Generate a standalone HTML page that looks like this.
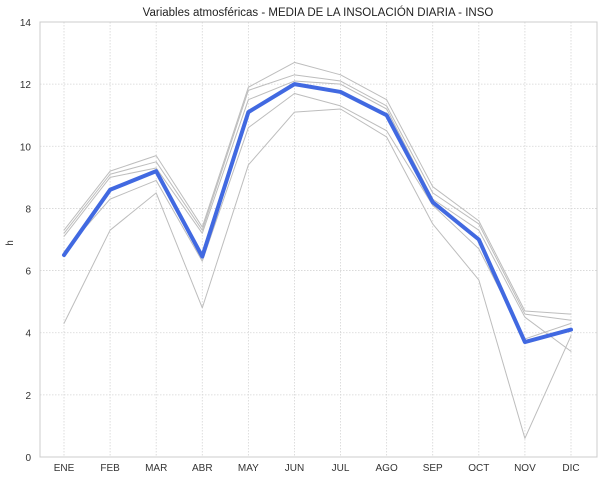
<!DOCTYPE html>
<html><head><meta charset="utf-8"><style>
body{margin:0;background:#fff;font-family:"Liberation Sans",sans-serif}
</style></head><body>
<svg id="chart" width="603" height="480" xmlns="http://www.w3.org/2000/svg"></svg>
<script>
const months=["ENE","FEB","MAR","ABR","MAY","JUN","JUL","AGO","SEP","OCT","NOV","DIC"];
const yTicks=[0,2,4,6,8,10,12,14];
const serieA=[4.3,7.3,8.5,4.8,9.4,11.1,11.2,10.3,7.5,5.7,0.6,3.9];
const serieB=[7.3,9.2,9.7,7.4,11.9,12.7,12.3,11.5,8.7,7.6,4.7,4.6];
const serieC=[7.2,9.1,9.5,7.3,11.8,12.3,12.1,11.3,8.5,7.5,4.6,4.4];
const serieD=[7.1,9.0,9.3,7.2,11.5,12.1,12.0,11.2,8.3,7.3,4.5,3.4];
const serieE=[6.6,8.3,8.9,6.3,10.6,11.7,11.3,10.5,8.1,6.7,3.8,4.3];
const media=[6.5,8.6,9.2,6.45,11.1,12.0,11.75,11.0,8.2,7.0,3.7,4.1];
const svg=document.getElementById('chart');
const NS="http://www.w3.org/2000/svg";
const L=40,R=597,T=22,B=457;
const x=i=>64+i*(571-64)/11;
const y=v=>B-(v/14)*(B-T);
function mk(tag,attrs,parent){const e=document.createElementNS(NS,tag);for(const k in attrs)e.setAttribute(k,attrs[k]);(parent||svg).appendChild(e);return e;}
const grid=mk('g',{});


yTicks.forEach(t=>{
 mk('line',{x1:L,x2:R,y1:y(t),y2:y(t),stroke:'#d5d5d5','stroke-width':0.8,'stroke-dasharray':'1.5,1.5'},grid);
 const tx=mk('text',{x:31,y:y(t)+4,'text-anchor':'end','font-size':10,fill:'#333'});
 tx.textContent=t;
 
 
});
months.forEach((m,i)=>{
 mk('line',{x1:x(i),x2:x(i),y1:T,y2:B,stroke:'#d5d5d5','stroke-width':0.8,'stroke-dasharray':'1.5,1.5'},grid);
 const tx=mk('text',{x:x(i),y:471,'text-anchor':'middle','font-size':10,fill:'#333'});
 tx.textContent=m;
 
 
});
const frame=mk('rect',{x:L,y:T,width:R-L,height:B-T,fill:'none',stroke:'#cccccc','stroke-width':1});


function line(data,color,w,name){
 const p=mk('polyline',{points:data.map((v,i)=>x(i)+','+y(v)).join(' '),fill:'none',stroke:color,'stroke-width':w,'stroke-linejoin':'round','stroke-linecap':'round'});
 
 
}
line(serieA,'#bdbdbd',1,'series-a');
line(serieB,'#bdbdbd',1,'series-b');
line(serieC,'#bdbdbd',1,'series-c');
line(serieD,'#bdbdbd',1,'series-d');
line(serieE,'#bdbdbd',1,'series-e');
line(media,'#4169e1',4,'mean-line');
const title=mk('text',{x:318,y:16,'text-anchor':'middle','font-size':11.5,fill:'#222'});
title.textContent='Variables atmosféricas - MEDIA DE LA INSOLACIÓN DIARIA - INSO';


const yl=mk('text',{x:13,y:243,'text-anchor':'middle','font-size':10,fill:'#333',transform:'rotate(-90 13 243)'});
yl.textContent='h';


</script>
</body></html>
